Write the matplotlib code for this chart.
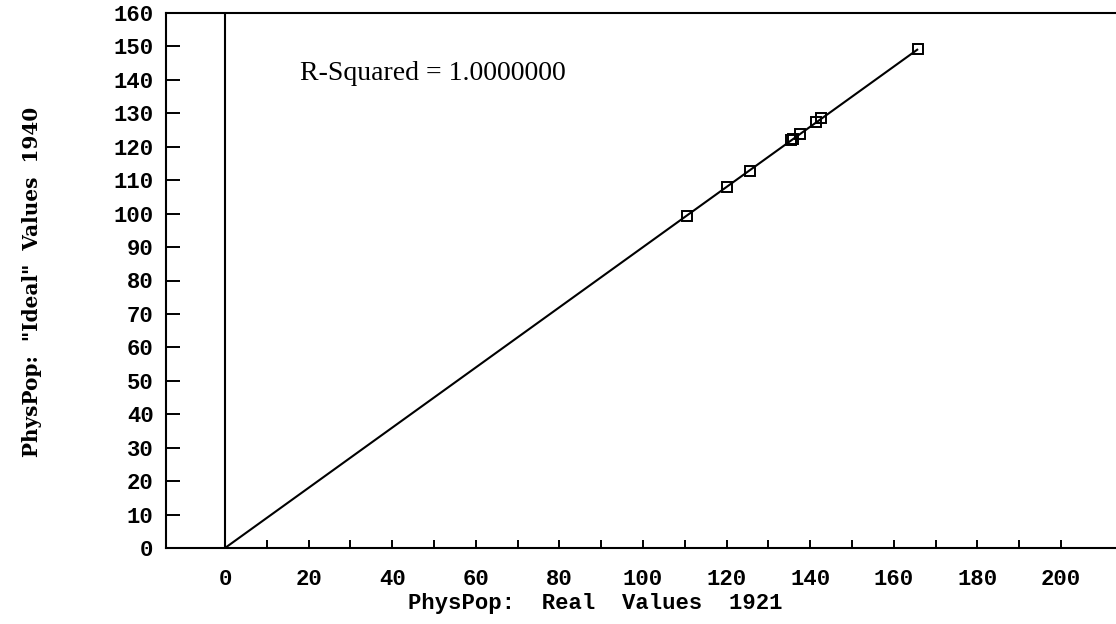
import matplotlib
matplotlib.use("Agg")
import matplotlib.pyplot as plt

# Data
real_1921 = [110.6, 120.0, 125.6, 135.4, 136.0, 137.6, 141.4, 142.7, 165.8]
ideal_1940 = [99.4, 108.0, 112.8, 122.0, 122.4, 123.7, 127.4, 128.5, 149.2]
fit_x = [0.0, 165.8]
fit_y = [0.0, 149.2]
x_tick_labels = ["0", "20", "40", "60", "80", "100", "120", "140", "160", "180", "200"]
y_tick_labels = [str(v) for v in range(0, 161, 10)]
r_squared_text = "R-Squared = 1.0000000"

W, H = 1116, 624
fig = plt.figure(figsize=(W / 100, H / 100), dpi=100)
left_px, right_px, top_px, bottom_px = 166, 1116, 13, 548
ax = fig.add_axes([left_px / W, 1 - bottom_px / H, (right_px - left_px) / W, (bottom_px - top_px) / H])

x0_px, x200_px = 225, 1061
ppu = (x200_px - x0_px) / 200.0
ax.set_xlim((left_px - x0_px) / ppu, (right_px - x0_px) / ppu)
ax.set_ylim(0, 160)

lw = 1.5
for s in ["left", "bottom", "top"]:
    ax.spines[s].set_linewidth(lw)
ax.spines["right"].set_visible(False)

ax.axvline(0, color="black", lw=lw)
ax.plot(fit_x, fit_y, color="black", lw=1.5, solid_capstyle="butt")
ax.plot(real_1921, ideal_1940, linestyle="none", marker="s", markersize=7.5,
        markerfacecolor="none", markeredgecolor="black", markeredgewidth=1.4)

tick_font = {"family": "Liberation Mono", "weight": "bold", "size": 16}

ax.set_yticks(range(0, 161, 10))
ax.set_yticklabels(y_tick_labels, fontdict=tick_font)
ax.tick_params(axis="y", direction="in", length=10, width=1.4, pad=9, left=True, right=False)

ax.set_xticks(range(0, 201, 20))
ax.set_xticklabels(x_tick_labels, fontdict=tick_font)
ax.set_xticks(range(10, 201, 20), minor=True)
ax.tick_params(axis="x", which="both", direction="in", length=6, width=1.4, pad=15, top=False)

fig.text(595 / W, 1 - 603 / H, "PhysPop:  Real  Values  1921", ha="center", va="center",
         family="Liberation Mono", weight="bold", size=16)
fig.text(32 / W, 1 - 282 / H, 'PhysPop:  "Ideal"  Values  1940', ha="center", va="center",
         rotation=90, family="DejaVu Serif", weight="bold", size=14.4)
ax.text(((298 + 567) / 2 - x0_px) / ppu, (bottom_px - 73) / ((bottom_px - top_px) / 160),
        r_squared_text, ha="center", va="center", family="Liberation Serif", size=20)

fig.savefig("out.png", dpi=100)
